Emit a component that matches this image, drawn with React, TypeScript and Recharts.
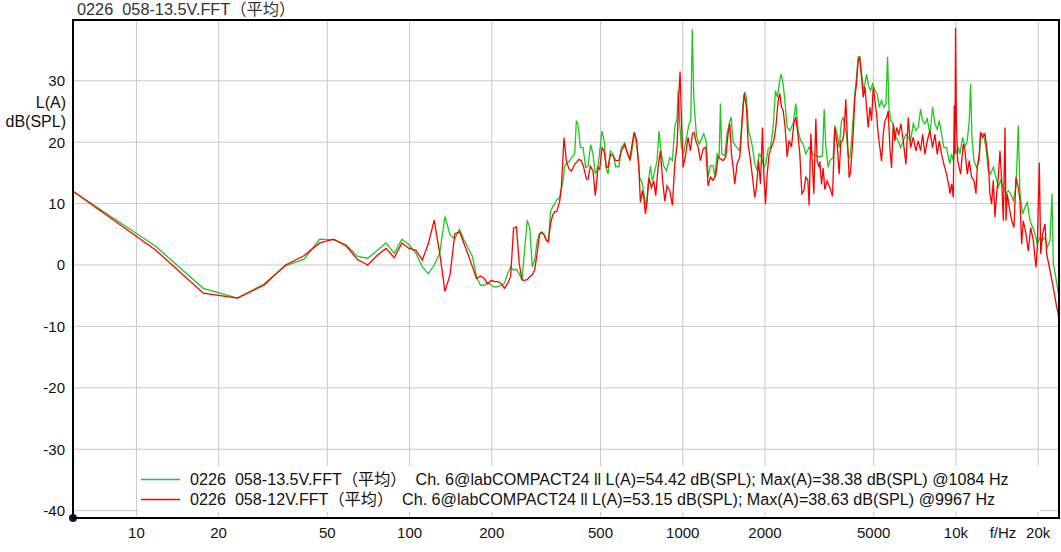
import React from 'react';
import { LineChart, Line, XAxis, YAxis, CartesianGrid, ReferenceDot } from 'recharts';

// FFT bins (Hz) at the low end, shared by both traces
const binFreqs = [5.86, 11.72, 17.58, 23.44, 29.3, 35.16, 41.02, 46.88, 52.73, 58.59, 64.45, 70.31, 76.17, 82.03, 87.89, 93.75, 99.61, 105.47, 111.33, 117.19, 123.05, 128.91, 134.77, 140.63, 146.48, 152.34, 158.2, 164.06, 169.92, 175.78, 181.64, 187.5, 193.36, 199.22, 205.08, 210.94, 216.8, 222.66, 228.52, 234.38, 240.23, 246.09, 251.95, 257.81, 263.67, 269.53, 275.39, 281.25, 287.11, 292.97, 298.83, 304.69, 310.55, 316.41, 322.27, 328.13, 333.98, 339.84, 345.7];
const greenBinDb = [12.0, 3.1, -3.8, -5.4, -3.1, -0.1, 0.9, 4.2, 4.1, 3.3, 1.4, 1.1, 2.4, 3.6, 1.9, 4.2, 3.3, 1.9, -0.3, -1.4, 0.0, 1.9, 7.9, 4.9, 4.3, 5.8, 4.1, 2.7, 1.4, -1.9, -3.3, -3.3, -2.9, -3.3, -3.6, -3.5, -3.3, -3.0, -1.4, -0.3, -0.8, -0.7, -1.4, -2.4, 2.4, 7.3, 6.0, -0.3, 0.8, 3.8, 5.1, 5.4, 4.9, 4.0, 3.8, 8.7, 9.5, 10.0, 10.6];
const redBinDb = [12.0, 2.5, -4.6, -5.4, -3.3, 0.0, 1.5, 3.6, 4.2, 3.1, 0.9, 0.0, 1.6, 2.7, 1.2, 3.6, 2.7, 2.4, 0.8, 3.5, 7.3, 1.9, -4.3, -1.6, 5.1, 5.4, 3.5, 1.6, -0.3, -2.2, -1.8, -2.2, -3.1, -2.5, -2.7, -2.7, -3.1, -3.8, -3.0, -1.9, 6.0, 6.2, 0.3, -2.4, -2.5, -2.4, -1.9, -1.6, -0.8, 1.9, 4.9, 5.3, 5.0, 4.1, 3.8, 6.8, 8.1, 8.7, 8.7];

// dense upper band, green trace (13.5 V)
const greenHiFreqs = [354.4, 364.4, 369.5, 374.8, 385.6, 396.6, 402.2, 407.9, 413.7, 421.9, 431.5, 441.2, 450.0, 460.3, 469.4, 478.7, 489.6, 506.4, 515.0, 525.3, 532.7, 543.3, 555.6, 568.3, 584.5, 596.0, 613.1, 625.3, 643.2, 667.1, 680.3, 695.8, 709.7, 721.8, 736.1, 746.5, 761.4, 774.4, 789.7, 805.4, 819.1, 835.5, 852.1, 871.5, 896.4, 916.6, 934.9, 953.6, 961.7, 975.0, 988.8, 1008.5,
  1031.4, 1054.9, 1070, 1084, 1098, 1122.3, 1147.6, 1170.6, 1193.8, 1221.0, 1238.3, 1262.9, 1291.6, 1309.9, 1336.1, 1358.8, 1374.2, 1389.7, 1425.2, 1453.7, 1478.4, 1503.4, 1529.1, 1572.6, 1617.4, 1663.4, 1687.0, 1710.9, 1740.0, 1769.5, 1799.7, 1835.3, 1871.6, 1903.6, 1941.6, 1980.1, 2013.7, 2053.9, 2094.6, 2142.4, 2184.8, 2222.1, 2266.1, 2291.8, 2330.6, 2370.2, 2410.4, 2465.4, 2535.6, 2593.4, 2644.8, 2697.6, 2759.1, 2821.7, 2902.1, 2985.2, 3070.4, 3157.9, 3247.9, 3293.9, 3340.4, 3406.9, 3455.4,
  3553.6, 3603.8, 3675.3, 3738.0, 3812.0, 3866.0, 3920.6, 3976.3, 4032.5, 4089.6, 4147.6, 4206.3, 4265.8, 4326.2, 4387.4, 4450.8, 4513.8, 4603.1, 4708.1, 4788.0, 4869.0, 4951.6, 5050.5, 5150.4, 5237.7, 5342.5, 5449.3, 5541.7, 5620.1, 5683.9, 5780.3, 5895.9, 6029.2, 6149.8, 6271.5, 6414.6, 6559.9, 6691.1, 6823.4, 6979.1, 7138.4, 7279.5, 7425.1, 7551.0, 7700.3, 7852.3, 8031.5, 8213.6, 8377.5, 8543.6, 8689.6, 8862.2, 9036.5, 9242.6, 9453.5,
  9506.6, 9643.0, 9779.0, 9915.9, 10056, 10198, 10344, 10578, 10790, 11003, 11190, 11317, 11445, 11640, 11905, 12174, 12312, 12593, 12880, 13135, 13397, 13701, 14013, 14293, 14576, 14909, 15249, 15551, 15861, 16218, 16589, 16918, 17158, 17549, 17897, 18254, 18671, 19094, 19475, 19861, 20314, 20777, 21184, 21607, 22096, 22471, 22726, 23111, 23507, 23841];
const greenHiDb = [11, 13.7, 16.1, 16.4, 17, 17.8, 18, 23.5, 22.9, 19.1, 19.1, 15.9, 16.1, 19.6, 18, 14.8, 16.1, 21.8, 20.4, 15.6, 14.8, 18.6, 18, 16, 16, 19.1, 19.9, 18.6, 17, 21.6, 19.1, 14.2, 13.4, 11.5, 9.3, 13.2, 16.1, 13.7, 15.3, 17, 21.8, 18, 16.1, 15.3, 17.5, 17, 22.4, 24, 28.4, 22.9, 19.1, 18.3,
  20.8, 23, 23.5, 38.4, 27, 21.1, 19.7, 20.5, 21.4, 20, 14.3, 16.2, 16.2, 14.3, 18.1, 17.6, 26.3, 18.1, 17.8, 21.4, 23, 24.1, 20, 19.2, 18.6, 26.3, 28.2, 27.3, 21.9, 20.8, 19.2, 16.5, 15.4, 18.1, 17.6, 15.9, 16.5, 18.9, 19.2, 22.4, 28.4, 27.3, 30.1, 31.1, 29.5, 26.3, 22.4, 21.9, 23, 26.3, 21.9, 20.3, 19.7, 18.1, 19.2, 18.1, 17.8, 17.6, 17.8, 25.4, 19.2, 15.9, 17,
  17.5, 22.7, 21.3, 19.1, 23.5, 24, 22.4, 21.3, 18, 17.5, 20.2, 24, 27.9, 30.6, 33.9, 33.9, 31.1, 28.4, 31.1, 29.2, 28.4, 29.5, 28.4, 27.9, 25.7, 26.8, 25.7, 26.2, 33.9, 25.7, 23.5, 23, 20.8, 20.2, 19.1, 20.2, 21.3, 20.8, 20.2, 23, 21.9, 22.4, 25.4, 23.5, 23, 23.8, 21.3, 25.7, 23, 22.1, 23.5, 21.3, 19.1, 19.1, 16.9,
  16.5, 18.1, 17, 19.2, 18.1, 19.2, 18.1, 20.8, 19.2, 20.3, 23.5, 29.5, 20.8, 17, 15.9, 17, 21.4, 21.4, 19.2, 15.4, 14.8, 15.9, 14.3, 12.7, 13.8, 12.7, 11.6, 12.1, 11.6, 10.5, 12.7, 22.7, 11.6, 8.3, 9.4, 10.2, 7.2, 6.1, 5.1, 3.4, 4.5, 4, 4.5, 2.9, 4, 11.6, 0.2, -1.5, -3.6, -5.3];

// dense upper band, red trace (12 V)
const redHiFreqs = [354.4, 359.4, 367.5, 374.8, 383.4, 391.0, 402.2, 417.2, 425.5, 434.0, 443.8, 450.0, 459.0, 469.4, 478.7, 489.6, 496.6, 506.4, 515.0, 525.3, 532.7, 543.3, 555.6, 568.3, 582.9, 596.0, 613.1, 625.3, 639.6, 663.2, 676.6, 690.0, 699.7, 711.6, 719.7, 729.9, 740.2, 752.7, 767.6, 782.9, 796.3, 812.1, 828.3, 842.4, 859.2, 876.2, 896.4, 916.6, 934.9, 953.6, 969.6, 977.7, 988.8, 1002.8,
  1025.6, 1045.9, 1066.8, 1084.9, 1100.2, 1115.8, 1138.1, 1160.7, 1187.2, 1214.1, 1238.3, 1262.9, 1291.6, 1321.1, 1347.4, 1374.2, 1405.2, 1437.3, 1465.6, 1486.6, 1507.6, 1529.1, 1550.6, 1581.3, 1617.4, 1644.8, 1677.3, 1710.9, 1735.3, 1769.5, 1799.7, 1835.3, 1862.0, 1893.4, 1925.5, 1958.3, 1980.1, 2008.8, 2037.1, 2071.7, 2113.1, 2154.4, 2191.3, 2234.6, 2266.1, 2298.7, 2330.6, 2370.2, 2410.4, 2451.3, 2500.1, 2550.0, 2593.4, 2637.5, 2682.7, 2728.2, 2774.5, 2821.7, 2870.1, 2902.1, 2943.4, 2985.2, 3019.3, 3070.4, 3104.5, 3157.9,
  3175.7, 3221.1, 3265.1, 3312.1, 3377.6, 3455.4, 3533.2, 3603.8, 3675.3, 3738.0, 3791.1, 3844.7, 3887.5, 3954.0, 3998.4, 4066.3, 4113.4, 4159.1, 4206.3, 4265.8, 4326.2, 4387.4, 4438.6, 4513.8, 4577.6, 4642.6, 4708.1, 4774.9, 4842.3, 4911.0, 4980.3, 5050.5, 5122.0, 5194.1, 5267.6, 5342.5, 5418.9, 5495.6, 5573.4, 5652.1, 5731.9, 5813.1, 5895.9, 5978.8, 6063.5, 6183.5, 6288.8, 6414.6, 6559.9, 6691.1, 6823.4, 6979.1, 7138.4, 7279.5, 7425.1, 7551.0, 7700.3, 7852.3, 8031.5, 8213.6, 8377.5, 8543.6, 8689.6, 8862.2, 9036.5, 9242.6, 9453.5,
  9506.6, 9643.0, 9779.0, 9860, 9920, 9967, 10040, 10150, 10400, 10637, 10790, 11003, 11190, 11414, 11640, 11840, 11972, 12174, 12312, 12524, 12771, 12954, 13135, 13320, 13511, 13701, 13895, 14095, 14293, 14497, 14704, 14909, 15120, 15249, 15417, 15679, 15996, 16313, 16589, 16918, 17158, 17403, 17642, 18050, 18404, 18779, 19195, 19637, 19861, 20192, 20436, 20777, 21184, 21488, 21858, 22229, 22609, 23052, 23388, 23699, 23841];
const redHiDb = [10.4, 12.6, 20.7, 17, 15.6, 15.3, 16.4, 17.2, 17, 15.9, 14, 14, 16.1, 15.3, 11.3, 15.9, 15.6, 19.1, 18.6, 15.9, 15.9, 18, 17.8, 17, 17, 18.6, 19.6, 18.3, 17.2, 21.6, 20.5, 16.4, 10.2, 12.1, 11, 8.3, 10.4, 14.2, 12.6, 13.7, 11.3, 15.9, 18.6, 14.2, 10.4, 12.9, 12.1, 9.7, 16.4, 19.6, 28.4, 31.5, 24, 15.9,
  18.1, 20.8, 18.6, 21.4, 21.6, 20.3, 19.2, 17, 18.9, 19.2, 12.9, 14.3, 13.8, 14.6, 17.6, 17.3, 17, 17.6, 21.4, 23, 18.1, 15.9, 13.2, 16.5, 17.6, 22.4, 27.9, 25.7, 19.7, 17, 14.3, 11, 12.7, 17, 13.2, 22.4, 14.8, 9.9, 14.8, 18.1, 19.2, 20.3, 22.4, 26.8, 27.9, 25.7, 25.2, 22.4, 17.6, 20.3, 19.2, 23, 24.1, 21.4, 18.1, 11.6, 12.1, 14.3, 13.8, 9.7, 21.4, 15.9, 11.6, 23.8, 17, 15.9,
  16.9, 13.1, 15.8, 12.3, 13.7, 12.6, 11.2, 22.4, 19.7, 14.8, 20.2, 20.2, 21.3, 27, 21.3, 14.2, 15.3, 18, 21.3, 27.3, 29.5, 33.3, 33.9, 30.6, 27.3, 29, 25.7, 22.4, 25.7, 23.5, 29, 26.8, 24.6, 21.3, 19.1, 16.9, 21.3, 23.5, 24, 25.1, 19.1, 15.8, 23, 20.2, 22.4, 21.3, 23, 20.2, 16.4, 24, 19.1, 20.8, 18.6, 20.2, 18.6, 21.3, 18, 20.2, 21.9, 19.1, 21.3, 18, 20.2, 18, 16.4, 14.8, 12.6,
  11.6, 13.2, 11, 26, 18.1, 38.6, 23.5, 17, 14.8, 19.7, 18.6, 14.8, 17, 14.3, 13.8, 11.6, 15.9, 18.1, 21.6, 20.8, 21.4, 19.2, 17, 11.6, 9.9, 13.8, 7.8, 11.6, 14.3, 18.6, 13.8, 7.2, 22.4, 7.2, 11.6, 9.4, 7.2, 6.1, 14.3, 12.7, 10.5, 3.4, 7.2, 5.1, 2.3, 6.1, 4, -0.4, 2.9, 16.7, 1.8, 5.1, 6.7, 1.8, 0.2, -1.5, -3.1, -5.3, -6.9, -8, -9.9];

const xTicks = [10, 20, 50, 100, 200, 500, 1000, 2000, 5000, 10000, 20000];
const yTicks = [-40, -30, -20, -10, 0, 10, 20, 30];
const xDomain = [5.86, 23841];
const yDomain = [-41.2, 39.9];

const titleText = '0226  058-13.5V.FFT（平均）';
const yUnitLines = ['L(A)', 'dB(SPL)'];
const xUnitText = 'f/Hz';
const legendNames = [
  '0226  058-13.5V.FFT（平均）  Ch. 6@labCOMPACT24 ll L(A)=54.42 dB(SPL); Max(A)=38.38 dB(SPL) @1084 Hz',
  '0226  058-12V.FFT（平均）  Ch. 6@labCOMPACT24 ll L(A)=53.15 dB(SPL); Max(A)=38.63 dB(SPL) @9967 Hz',
];
const seriesColors = ['#1ec81e', '#ff0000'];

const greenData = [
  ...binFreqs.map((f, i) => ({ f, db: greenBinDb[i] })),
  ...greenHiFreqs.map((f, i) => ({ f, db: greenHiDb[i] })),
];
const redData = [
  ...binFreqs.map((f, i) => ({ f, db: redBinDb[i] })),
  ...redHiFreqs.map((f, i) => ({ f, db: redHiDb[i] })),
];

const FONT = '"Liberation Sans", Arial, "Noto Sans CJK SC", sans-serif';
const fmtX = (v: number) => (v >= 10000 ? `${v / 1000}k` : `${v}`);

export default function App() {
  return (
    <div style={{ position: 'absolute', left: 0, top: 0, width: 1061, height: 552, background: '#fff', overflow: 'hidden', fontFamily: FONT }}>
      <LineChart width={1061} height={552} margin={{ top: 20, right: 2, bottom: 4, left: 13 }}>
        <CartesianGrid stroke="#c8c8c8" strokeWidth={1} />
        <XAxis
          dataKey="f"
          type="number"
          scale="log"
          domain={xDomain}
          allowDataOverflow
          ticks={xTicks}
          tickFormatter={fmtX}
          axisLine={false}
          tickLine={false}
          tickSize={0}
          tickMargin={9}
          height={30}
          tick={{ fontSize: 15, fill: '#111', fontFamily: FONT }}
        />
        <YAxis
          type="number"
          domain={yDomain}
          allowDataOverflow
          ticks={yTicks}
          axisLine={false}
          tickLine={false}
          tickSize={0}
          tickMargin={8}
          width={60}
          tick={{ fontSize: 15, fill: '#111', fontFamily: FONT }}
        />
        <Line data={greenData} dataKey="db" type="linear" stroke={seriesColors[0]} strokeWidth={1.3} dot={false} isAnimationActive={false} />
        <Line data={redData} dataKey="db" type="linear" stroke={seriesColors[1]} strokeWidth={1.3} dot={false} isAnimationActive={false} />
        <ReferenceDot x={xDomain[0]} y={yDomain[0]} r={4} fill="#0b1a2c" stroke="none" ifOverflow="visible" />
      </LineChart>

      {/* plot frame */}
      <div style={{ position: 'absolute', left: 72, top: 19, width: 988, height: 500, border: '2px solid #000', boxSizing: 'border-box', pointerEvents: 'none' }} />

      {/* title */}
      <div style={{ position: 'absolute', left: 77, top: 0, fontSize: 16.3, lineHeight: '18px', color: '#333', whiteSpace: 'pre' }}>{titleText}</div>

      {/* y unit */}
      {yUnitLines.map((t, i) => (
        <div key={t} style={{ position: 'absolute', left: 0, width: 66, textAlign: 'right', top: 94 + i * 19, fontSize: 16, lineHeight: '18px', color: '#111' }}>{t}</div>
      ))}

      {/* x unit */}
      <div style={{ position: 'absolute', left: 985, width: 36, textAlign: 'center', top: 524, fontSize: 15, lineHeight: '18px', color: '#111' }}>{xUnitText}</div>

      {/* legend */}
      <div style={{ position: 'absolute', left: 139, top: 466, width: 901, height: 46, background: '#fff' }}>
        {legendNames.map((name, i) => (
          <div key={i} style={{ position: 'absolute', left: 0, top: 4 + i * 20, height: 18, display: 'flex', alignItems: 'center', whiteSpace: 'pre' }}>
            <svg width={51} height={18} style={{ display: 'block' }}>
              <line x1={2} x2={41} y1={9.5} y2={9.5} stroke={seriesColors[i]} strokeWidth={1.3} />
            </svg>
            <span style={{ fontSize: 16.15, lineHeight: '18px', color: '#111' }}>{name}</span>
          </div>
        ))}
      </div>
    </div>
  );
}
